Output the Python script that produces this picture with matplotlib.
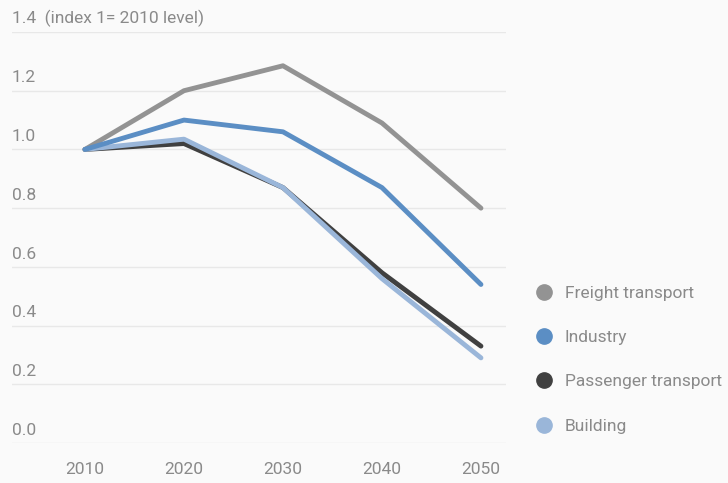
import matplotlib.pyplot as plt
from matplotlib.lines import Line2D
from matplotlib import transforms

plt.rcParams['font.family'] = ['Roboto', 'DejaVu Sans']

years = [2010, 2020, 2030, 2040, 2050]
freight = [1.0, 1.20, 1.285, 1.09, 0.80]
industry = [1.0, 1.10, 1.06, 0.87, 0.54]
passenger = [1.0, 1.02, 0.87, 0.58, 0.33]
building = [1.0, 1.035, 0.87, 0.56, 0.29]

names = ["Freight transport", "Industry", "Passenger transport", "Building"]
colors = ["#939393", "#5b8ec4", "#404040", "#9ab6d9"]
yticks = [0.0, 0.2, 0.4, 0.6, 0.8, 1.0, 1.2, 1.4]
ylabels = ["0.0", "0.2", "0.4", "0.6", "0.8", "1.0", "1.2", "1.4  (index 1= 2010 level)"]

bg = "#fafafa"
txt = "#8a8a8a"

fig = plt.figure(figsize=(7.28, 4.83), dpi=100, facecolor=bg)
ax = fig.add_axes([12/728, 40/483, 494/728, 411/483], facecolor=bg)

ax.set_xlim(2002.63, 2052.53)
ax.set_ylim(0, 1.4)

for v in yticks:
    ax.axhline(v, color="#e8e8e8", lw=1, zorder=0)

# draw order: dark under light
ax.plot(years, passenger, color=colors[2], lw=3.5, solid_capstyle='round', zorder=2)
ax.plot(years, building, color=colors[3], lw=3.5, solid_capstyle='round', zorder=3)
ax.plot(years, freight, color=colors[0], lw=3.5, solid_capstyle='round', zorder=4)
ax.plot(years, industry, color=colors[1], lw=3.5, solid_capstyle='round', zorder=5)

for s in ax.spines.values():
    s.set_visible(False)
ax.set_yticks([])
ax.set_xticks(years)
ax.set_xticklabels([str(y) for y in years])
ax.tick_params(axis='x', length=0, pad=14, labelsize=12.5, labelcolor=txt)

trans = transforms.blended_transform_factory(ax.transAxes, ax.transData)
for v, lab in zip(yticks, ylabels):
    ax.text(0, v + 0.018, lab, transform=trans, ha='left', va='bottom',
            fontsize=12.5, color=txt)

handles = [Line2D([], [], marker='o', ls='none', markersize=11,
                  markerfacecolor=c, markeredgecolor=c) for c in colors]
leg = fig.legend(handles, names, loc='upper left', bbox_to_anchor=(518/728, 1 - 270/483),
                 frameon=False, fontsize=12.5, labelspacing=1.68, handlelength=1.2,
                 handletextpad=0.6, labelcolor=txt)

fig.savefig("out.png", dpi=100, facecolor=bg)
